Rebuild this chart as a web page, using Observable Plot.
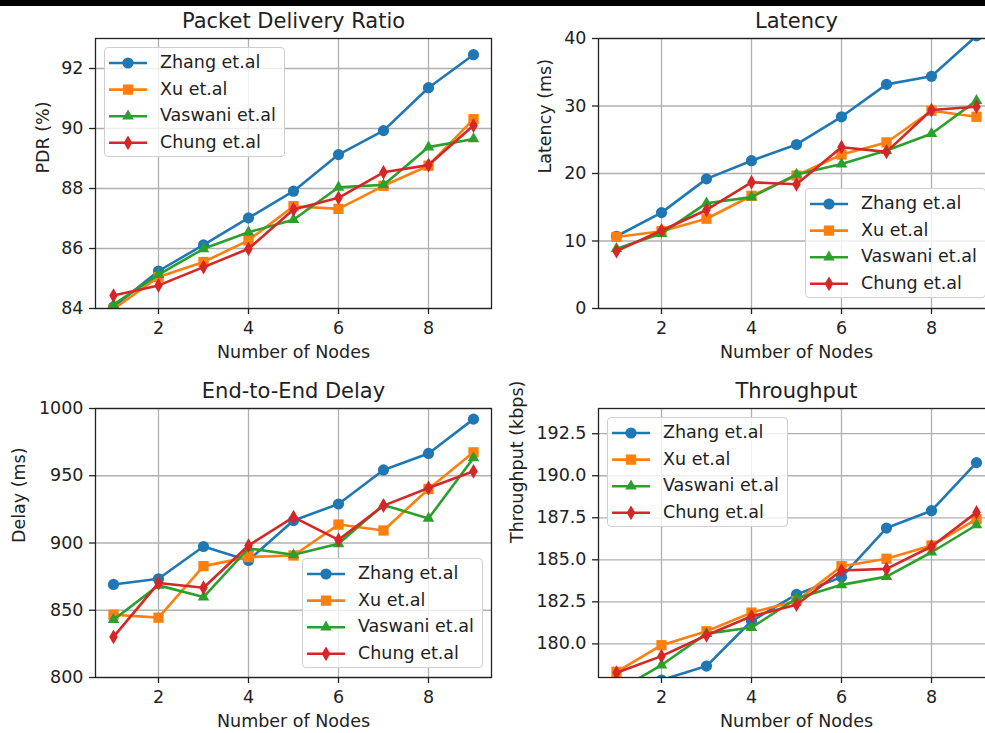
<!DOCTYPE html>
<html><head><meta charset="utf-8">
<script src="https://cdn.jsdelivr.net/npm/d3@7"></script>
<script src="https://cdn.jsdelivr.net/npm/@observablehq/plot@0.6"></script>
<style>
html,body{margin:0;padding:0;background:#fff;overflow:hidden;width:985px;height:733px;}
#fig{position:relative;width:985px;height:733px;overflow:hidden;font-family:"DejaVu Sans",sans-serif;color:#222;}
.topbar{position:absolute;left:0;top:0;width:985px;height:6px;background:#000;z-index:5;}
.panel{position:absolute;}
.panel svg{max-width:none !important;display:block;}
.legend{position:absolute;box-sizing:border-box;border:1px solid #cfcfcf;border-radius:4px;background:rgba(255,255,255,0.8);}
.legend svg{position:absolute;left:0;top:0;overflow:visible;}
.legend .lab{position:absolute;font-size:17.5px;line-height:20px;white-space:nowrap;color:#222;}
</style></head><body><div id="fig"><div class="topbar"></div></div>
<script>
// ---- data ----
const nodes = [1, 2, 3, 4, 5, 6, 7, 8, 9];
const seriesNames = ["Zhang et.al", "Xu et.al", "Vaswani et.al", "Chung et.al"];
const xTicks = [2, 4, 6, 8];

const pdrZhang   = [84.05, 85.25, 86.12, 87.02, 87.91, 89.13, 89.93, 91.36, 92.46];
const pdrXu      = [83.98, 85.05, 85.55, 86.27, 87.41, 87.32, 88.09, 88.76, 90.31];
const pdrVaswani = [84.13, 85.13, 85.99, 86.54, 86.96, 88.04, 88.12, 89.38, 89.65];
const pdrChung   = [84.43, 84.77, 85.38, 85.99, 87.30, 87.69, 88.54, 88.78, 90.10];
const pdrTicks = [84, 86, 88, 90, 92];

const latZhang   = [10.7, 14.2, 19.2, 21.9, 24.3, 28.4, 33.2, 34.4, 40.4];
const latXu      = [10.6, 11.45, 13.3, 16.7, 19.7, 22.8, 24.6, 29.3, 28.4];
const latVaswani = [8.85, 11.1, 15.6, 16.5, 19.85, 21.4, 23.4, 25.9, 30.8];
const latChung   = [8.5, 11.55, 14.6, 18.7, 18.4, 23.9, 23.2, 29.4, 29.9];
const latTicks = [0, 10, 20, 30, 40];

const delZhang   = [869.2, 873.4, 897.4, 887.0, 916.7, 929.0, 954.3, 966.6, 992.1];
const delXu      = [846.7, 844.5, 882.8, 889.5, 890.7, 913.7, 909.3, 940.2, 967.4];
const delVaswani = [843.0, 868.5, 859.8, 896.0, 891.2, 899.4, 928.3, 918.2, 963.2];
const delChung   = [830.2, 870.2, 866.7, 898.1, 919.2, 902.3, 927.8, 940.9, 953.3];
const delTicks = [800, 850, 900, 950, 1000];

const thrZhang   = [177.0, 177.85, 178.68, 181.36, 182.94, 183.97, 186.89, 187.92, 190.78];
const thrXu      = [178.34, 179.92, 180.75, 181.86, 182.55, 184.62, 185.06, 185.85, 187.42];
const thrVaswani = [177.18, 178.74, 180.61, 180.97, 182.70, 183.51, 184.00, 185.45, 187.07];
const thrChung   = [178.28, 179.27, 180.51, 181.64, 182.33, 184.36, 184.46, 185.79, 187.82];
const thrTicks = [180, 182.5, 185, 187.5, 190, 192.5];

// ---- styles ----
const colors = ["#1f77b4", "#ff7f0e", "#2ca02c", "#d62728"];
const symbols = ["circle", "square", "triangle", "diamond"];
const radii = [5.6, 5.8, 4.3, 4.5];
const FS = 17.5;
const ink = "#222";

const fig = document.getElementById("fig");

function panel(cfg) {
  const rows = [];
  cfg.values.forEach((vals, i) => vals.forEach((v, j) => rows.push({x: nodes[j], y: v, s: seriesNames[i]})));
  const gridStyle = {stroke: "#b0b0b0", strokeOpacity: 1, strokeWidth: 1.3};
  const marks = [
    Plot.gridX(xTicks, gridStyle),
    Plot.gridY(cfg.yTicks, gridStyle),
    Plot.axisX(xTicks, {tickSize: 6, tickPadding: 7, fontSize: FS, label: null, strokeWidth: 1.3}),
    Plot.axisY(cfg.yTicks, {tickSize: 6, tickPadding: 6, fontSize: FS, label: null, strokeWidth: 1.3, tickFormat: cfg.fmt}),
  ];
  seriesNames.forEach((name, i) => {
    const d = rows.filter(r => r.s === name);
    marks.push(Plot.line(d, {x: "x", y: "y", stroke: colors[i], strokeWidth: 2.6, clip: true}));
    marks.push(Plot.dot(d, {x: "x", y: "y", symbol: symbols[i], fill: colors[i], stroke: "none", r: radii[i], clip: true}));
  });
  marks.push(Plot.frame({stroke: ink, strokeWidth: 1.3}));
  marks.push(Plot.text([cfg.title], {text: d => d, frameAnchor: "top", lineAnchor: "middle", dy: -17.5, fontSize: 21, fill: ink}));
  marks.push(Plot.text(["Number of Nodes"], {text: d => d, frameAnchor: "bottom", lineAnchor: "middle", dy: 44, fontSize: FS, fill: ink}));
  marks.push(Plot.text([cfg.ylabel], {text: d => d, frameAnchor: "left", lineAnchor: "middle", dx: cfg.ylabelDx, rotate: -90, fontSize: FS, fill: ink}));

  const chart = Plot.plot({
    width: cfg.w, height: cfg.h,
    marginLeft: cfg.ml, marginRight: cfg.mr, marginTop: cfg.mt, marginBottom: cfg.mb,
    x: {domain: [0.6, 9.4]},
    y: {domain: cfg.yDomain},
    style: {fontFamily: "DejaVu Sans, sans-serif", fontSize: FS + "px", color: ink, background: "transparent", overflow: "visible", maxWidth: "none"},
    marks
  });
  const wrap = document.createElement("div");
  wrap.className = "panel";
  wrap.style.left = cfg.left + "px";
  wrap.style.top = cfg.top + "px";
  wrap.style.width = cfg.w + "px";
  wrap.style.height = cfg.h + "px";
  wrap.appendChild(chart);
  fig.appendChild(wrap);

  // legend
  const L = document.createElement("div");
  L.className = "legend";
  L.style.left = cfg.legend[0] + "px";
  L.style.top = cfg.legend[1] + "px";
  L.style.width = "181px";
  L.style.height = "110px";
  const svg = d3.create("svg").attr("width", 181).attr("height", 110);
  seriesNames.forEach((name, i) => {
    const cy = 15 + 26.6 * i;
    svg.append("line").attr("x1", 4).attr("x2", 42).attr("y1", cy).attr("y2", cy)
      .attr("stroke", colors[i]).attr("stroke-width", 2.6);
    const sym = {circle: d3.symbolCircle, square: d3.symbolSquare, triangle: d3.symbolTriangle, diamond: d3.symbolDiamond}[symbols[i]];
    svg.append("path").attr("d", d3.symbol(sym, Math.PI * radii[i] * radii[i])())
      .attr("transform", `translate(23,${cy})`).attr("fill", colors[i]);
    const t = document.createElement("div");
    t.className = "lab";
    t.textContent = name;
    t.style.left = "55px";
    t.style.top = (cy - 11) + "px";
    L.appendChild(t);
  });
  L.insertBefore(svg.node(), L.firstChild);
  fig.appendChild(L);
}

panel({title: "Packet Delivery Ratio", ylabel: "PDR (%)", ylabelDx: -52,
  values: [pdrZhang, pdrXu, pdrVaswani, pdrChung], yTicks: pdrTicks, yDomain: [84, 93], fmt: d3.format("d"),
  left: 0, top: 0, w: 493, h: 370, ml: 95, mr: 2, mt: 38, mb: 62, legend: [104, 47]});
panel({title: "Latency", ylabel: "Latency (ms)", ylabelDx: -53,
  values: [latZhang, latXu, latVaswani, latChung], yTicks: latTicks, yDomain: [0, 40], fmt: d3.format("d"),
  left: 493, top: 0, w: 507, h: 370, ml: 105, mr: 6, mt: 38, mb: 62, legend: [805, 188]});
panel({title: "End-to-End Delay", ylabel: "Delay (ms)", ylabelDx: -76,
  values: [delZhang, delXu, delVaswani, delChung], yTicks: delTicks, yDomain: [800, 1000], fmt: d3.format("d"),
  left: 0, top: 370, w: 493, h: 363, ml: 95, mr: 2, mt: 38, mb: 56, legend: [302, 558]});
panel({title: "Throughput", ylabel: "Throughput (kbps)", ylabelDx: -81,
  values: [thrZhang, thrXu, thrVaswani, thrChung], yTicks: thrTicks, yDomain: [178, 194], fmt: d3.format(".1f"),
  left: 493, top: 370, w: 507, h: 363, ml: 105, mr: 6, mt: 38, mb: 56, legend: [607, 417]});
</script></body></html>
